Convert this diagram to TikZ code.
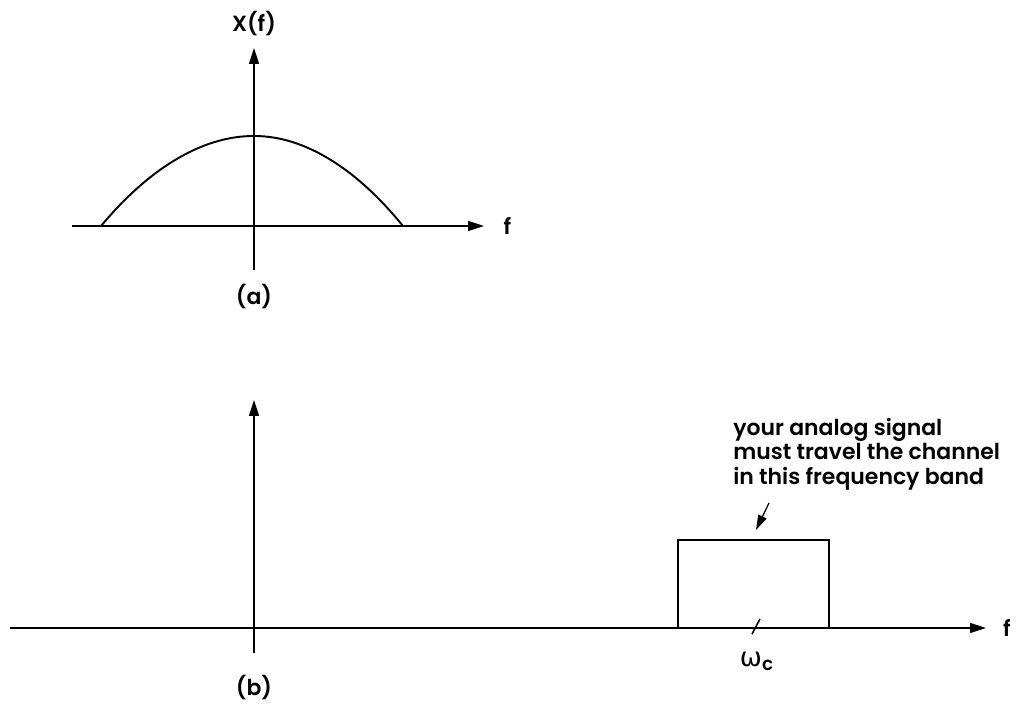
\documentclass[tikz,border=0pt]{standalone}
\usepackage{fontspec}
\setmainfont{Poppins}[BoldFont={* SemiBold}]
\newfontfamily\symfont{DejaVu Sans}
\usetikzlibrary{arrows.meta, positioning}

\begin{document}
\begin{tikzpicture}[
  x=0.02cm, y=0.02cm,
  axis/.style={-{Triangle[length=0.32cm, width=0.2cm]}, line width=0.7pt},
  curve/.style={line width=1.1pt},
  lbl/.style={font=\fontsize{12.5}{15}\selectfont\bfseries, inner sep=1pt},
  note/.style={font=\fontsize{12.5}{13.9}\selectfont\bfseries, align=left, inner sep=0pt}
]
  \useasboundingbox (0,0) rectangle (1022,705);

  % (a) spectrum of the message
  \coordinate (a-bot) at (254,435);
  \coordinate (a-top) at (254,657);
  \coordinate (a-left) at (72,479);
  \coordinate (a-right) at (484,479);
  \draw[axis] (a-bot) -- (a-top);
  \draw[axis] (a-left) -- (a-right);
  \node[lbl, above=0.2cm of a-top] (xf) {X(f)};
  \node[lbl, right=0.35cm of a-right] (fa) {f};
  \draw[curve] (101,479) parabola bend (254,569) (403,479);
  \node[lbl] (capa) at (254,408) {(a)};

  % (b) channel band
  \coordinate (b-bot) at (254,52);
  \coordinate (b-top) at (254,305);
  \coordinate (b-left) at (10,77);
  \coordinate (b-right) at (986,77);
  \draw[axis] (b-bot) -- (b-top);
  \draw[axis] (b-left) -- (b-right);
  \node[lbl, right=0.3cm of b-right] (fb) {f};
  \draw[curve] (678,77) -- (678,165) -- (829,165) -- (829,77);
  \draw[line width=0.9pt] (752,71) -- (760,86);
  \node[lbl, font=\fontsize{15}{15}\selectfont\bfseries] (wc) at (757,44)
    {{\symfont\mdseries ω}\textsubscript{c}};
  \node[lbl] (capb) at (254,17) {(b)};

  \node[note, anchor=north west] (band) at (733,287)
    {your analog signal\\must travel the channel\\in this frequency band};
  \coordinate (band-tip) at (756,175);
  \draw[-{Triangle[length=0.3cm, width=0.18cm]}, line width=0.7pt]
    (769,202) -- (band-tip);
\end{tikzpicture}
\end{document}
